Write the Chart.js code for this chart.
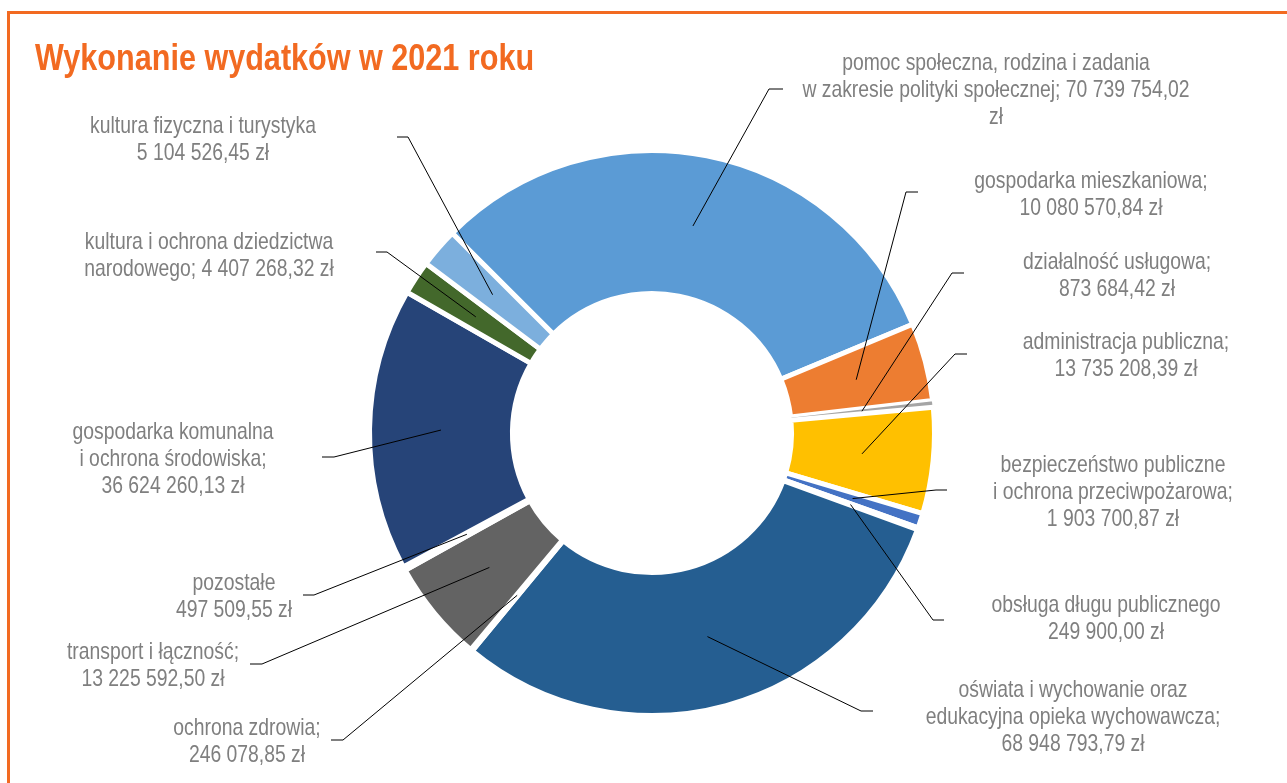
<!DOCTYPE html>
<html lang="pl">
<head>
<meta charset="utf-8">
<title>Wykonanie wydatków w 2021 roku</title>
<script src="https://cdn.jsdelivr.net/npm/chart.js@4/dist/chart.umd.min.js"></script>
<style>
	html, body { margin: 0; padding: 0; background: #fff; overflow: hidden; }
	#wrap { position: relative; width: 1287px; height: 783px; }
	#frame { position: absolute; left: 7px; top: 11px; right: -20px; bottom: -20px;
		border-left: 3px solid #f26a21; border-top: 3px solid #f26a21; }
	canvas { position: absolute; left: 0; top: 0; }
</style>
</head>
<body>
<div id="wrap">
	<div id="frame"></div>
	<canvas id="chart" width="1287" height="783"></canvas>
</div>
<script>
const TITLE = "Wykonanie wydatków w 2021 roku";

const CATEGORIES = [
	"pomoc społeczna, rodzina i zadania w zakresie polityki społecznej",
	"gospodarka mieszkaniowa",
	"działalność usługowa",
	"administracja publiczna",
	"bezpieczeństwo publiczne i ochrona przeciwpożarowa",
	"obsługa długu publicznego",
	"oświata i wychowanie oraz edukacyjna opieka wychowawcza",
	"ochrona zdrowia",
	"transport i łączność",
	"pozostałe",
	"gospodarka komunalna i ochrona środowiska",
	"kultura i ochrona dziedzictwa narodowego",
	"kultura fizyczna i turystyka",
];
const VALUES = [
	70739754.02, 10080570.84, 873684.42, 13735208.39, 1903700.87, 249900.0,
	68948793.79, 246078.85, 13225592.5, 497509.55, 36624260.13, 4407268.32, 5104526.45,
];
// label text as wrapped in the original, {v} = formatted value
const LABEL_TEXT = [
	"pomoc społeczna, rodzina i zadania\nw zakresie polityki społecznej; {v}\nzł",
	"gospodarka mieszkaniowa;\n{v} zł",
	"działalność usługowa;\n{v} zł",
	"administracja publiczna;\n{v} zł",
	"bezpieczeństwo publiczne\ni ochrona przeciwpożarowa;\n{v} zł",
	"obsługa długu publicznego\n{v} zł",
	"oświata i wychowanie oraz\nedukacyjna opieka wychowawcza;\n{v} zł",
	"ochrona zdrowia;\n{v} zł",
	"transport i łączność;\n{v} zł",
	"pozostałe\n{v} zł",
	"gospodarka komunalna\ni ochrona środowiska;\n{v} zł",
	"kultura i ochrona dziedzictwa\nnarodowego; {v} zł",
	"kultura fizyczna i turystyka\n{v} zł",
];

const COLORS = [
	"#5b9bd5", "#ed7d31", "#a5a5a5", "#ffc000", "#4472c4", "#70ad47",
	"#255e91", "#9e480e", "#636363", "#997300", "#264478", "#43682b", "#7cafdd",
];

// label placement: text centre x, first line y, leader elbow, end of the short tick
const LABEL_POS = [
	{ x: 996, y: 63, elbow: [769, 89], end: 783 },
	{ x: 1091, y: 181, elbow: [906, 192], end: 918 },
	{ x: 1117, y: 262, elbow: [952, 273], end: 964 },
	{ x: 1126, y: 342, elbow: [955, 354], end: 967 },
	{ x: 1113, y: 465, elbow: [936, 490], end: 947 },
	{ x: 1106, y: 605, elbow: [933, 620], end: 944 },
	{ x: 1073, y: 690, elbow: [861, 711], end: 873 },
	{ x: 247, y: 728, elbow: [343, 740], end: 331 },
	{ x: 153, y: 652, elbow: [262, 664], end: 250 },
	{ x: 234, y: 583, elbow: [314, 595], end: 303 },
	{ x: 173, y: 432, elbow: [334, 457], end: 322 },
	{ x: 209, y: 242, elbow: [387, 252], end: 376 },
	{ x: 203, y: 126, elbow: [408, 137], end: 397 },
];
const LINE_H = 27;

const fmtZl = (v) => {
	const [i, d] = v.toFixed(2).split(".");
	return i.replace(/\B(?=(\d{3})+(?!\d))/g, " ") + "," + d;
};

const canvas = document.getElementById("chart");

// narrow face if it is installed, otherwise squeeze Liberation Sans
function pickFont() {
	const c = canvas.getContext("2d");
	c.font = '40px "Liberation Sans Narrow", monospace';
	const a = c.measureText("Wykonanie wydatków").width;
	c.font = "40px monospace";
	const b = c.measureText("Wykonanie wydatków").width;
	return a !== b
		? { family: '"Liberation Sans Narrow", "Arial Narrow"', sx: 1 }
		: { family: '"Liberation Sans", Arial', sx: 0.82 };
}
const FONT = pickFont();

function text(ctx, str, x, y, align) {
	ctx.save();
	ctx.translate(x, y);
	ctx.scale(FONT.sx, 1);
	ctx.textAlign = align;
	ctx.fillText(str, 0, 0);
	ctx.restore();
}

const labelPlugin = {
	id: "labels",
	afterDatasetsDraw(chart) {
		const ctx = chart.ctx;
		const arcs = chart.getDatasetMeta(0).data;
		ctx.save();

		ctx.fillStyle = "#f26a21";
		ctx.font = `bold 37.3px ${FONT.family}`;
		ctx.textBaseline = "alphabetic";
		text(ctx, TITLE, 35, 70, "left");

		ctx.strokeStyle = "#000";
		ctx.lineWidth = 1;
		ctx.font = `23.6px ${FONT.family}`;
		ctx.textBaseline = "middle";
		ctx.fillStyle = "#7f7f7f";
		arcs.forEach((arc, i) => {
			const p = arc.getProps(["x", "y", "startAngle", "endAngle", "innerRadius", "outerRadius"], true);
			const mid = (p.startAngle + p.endAngle) / 2;
			const r = (p.innerRadius + p.outerRadius) / 2;
			const sx = p.x + Math.cos(mid) * r;
			const sy = p.y + Math.sin(mid) * r;
			const pos = LABEL_POS[i];
			ctx.beginPath();
			ctx.moveTo(sx, sy);
			ctx.lineTo(pos.elbow[0], pos.elbow[1]);
			ctx.lineTo(pos.end, pos.elbow[1]);
			ctx.stroke();

			const lines = LABEL_TEXT[i].replace("{v}", fmtZl(VALUES[i])).split("\n");
			lines.forEach((line, k) => text(ctx, line, pos.x, pos.y + k * LINE_H, "center"));
		});
		ctx.restore();
	},
};

new Chart(canvas, {
	type: "doughnut",
	data: {
		labels: CATEGORIES,
		datasets: [
			{
				data: VALUES,
				backgroundColor: COLORS,
				borderColor: "#fff",
				borderWidth: [5, 5, 1.5, 5, 5, 5, 5, 5, 5, 5, 5, 5, 5],
				hoverOffset: 0,
			},
		],
	},
	options: {
		responsive: false,
		animation: false,
		events: [],
		rotation: -45,
		cutout: "49.4%",
		layout: { padding: { left: 367, right: 350, top: 148, bottom: 65 } },
		plugins: { legend: { display: false }, tooltip: { enabled: false } },
	},
	plugins: [labelPlugin],
});
</script>
</body>
</html>
